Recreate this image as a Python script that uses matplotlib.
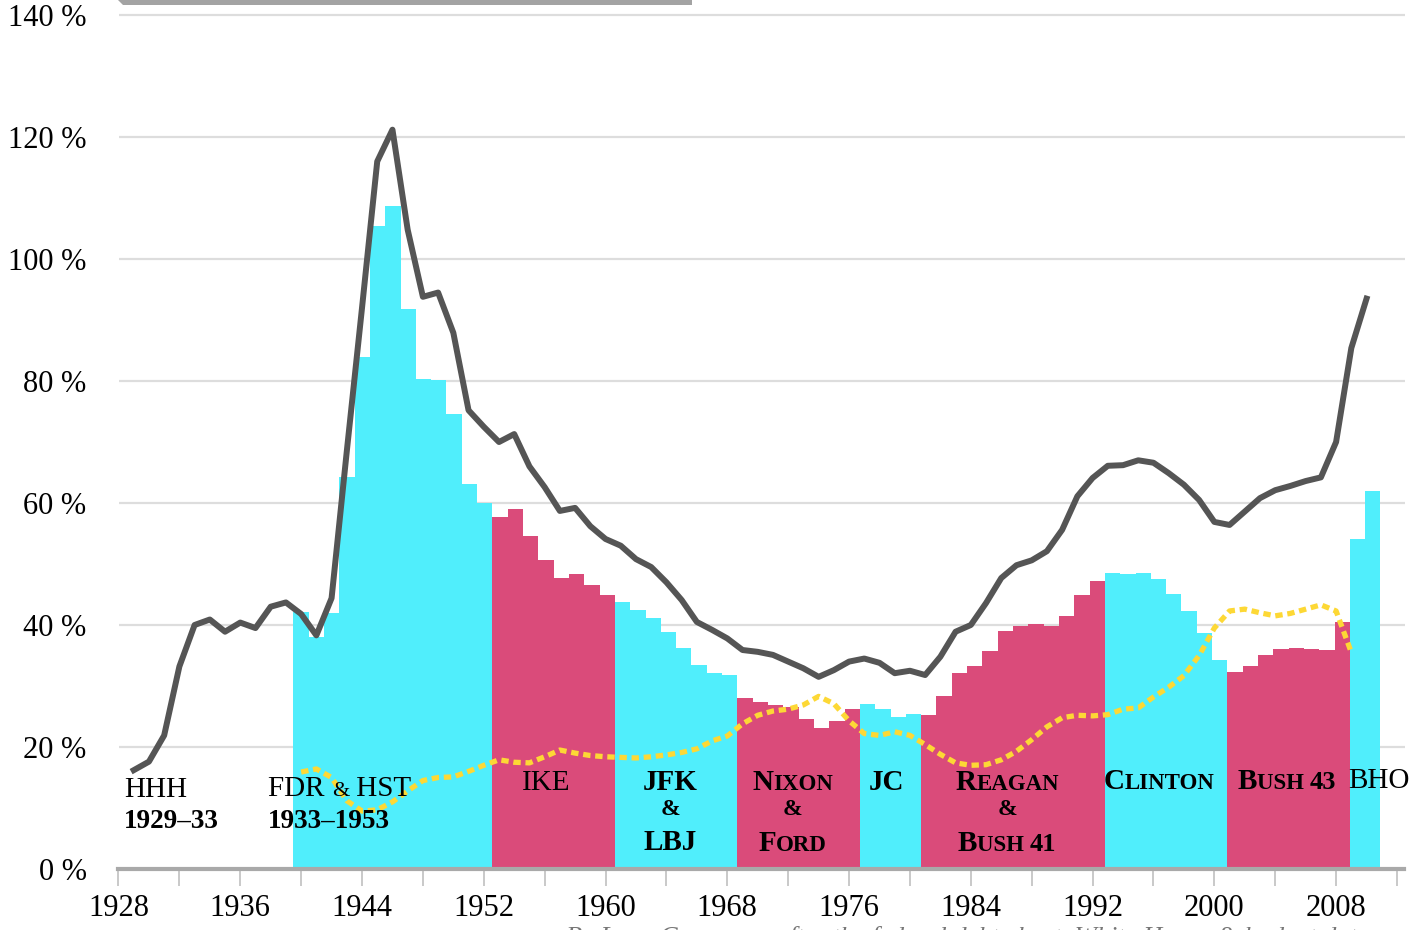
import numpy as np
import matplotlib
matplotlib.use("Agg")
import matplotlib.pyplot as plt
from matplotlib.offsetbox import TextArea, HPacker, AnnotationBbox
from matplotlib.patches import Polygon

SERIF = ["Liberation Serif", "DejaVu Serif"]
plt.rcParams["font.family"] = SERIF

# ---- data ----
line_years = np.arange(1929, 2011)
gross_debt = [16.2, 17.6, 21.9, 33.2, 40.0, 40.9, 38.9, 40.4, 39.5, 43.0,
              43.7, 41.8, 38.3, 44.4, 68.5, 92.0, 116.0, 121.2, 104.8, 93.8,
              94.5, 87.9, 75.2, 72.5, 70.0, 71.3, 66.0, 62.6, 58.7, 59.2,
              56.2, 54.1, 53.0, 50.8, 49.5, 47.0, 44.1, 40.5, 39.2, 37.8,
              35.9, 35.6, 35.1, 34.0, 32.9, 31.5, 32.6, 34.0, 34.5, 33.8,
              32.1, 32.5, 31.8, 34.8, 38.9, 40.0, 43.6, 47.7, 49.8, 50.6,
              52.1, 55.6, 61.1, 64.1, 66.1, 66.2, 67.0, 66.6, 64.9, 63.0,
              60.5, 56.9, 56.4, 58.6, 60.8, 62.1, 62.8, 63.6, 64.2, 70.0,
              85.4, 93.5]

bar_years = np.arange(1940, 2011)
public_debt = [42.2, 38.1, 41.9, 64.3, 84.0, 105.4, 108.7, 91.8, 80.4, 80.2,
               74.6, 63.1, 60.0, 57.7, 59.0, 54.6, 50.7, 47.7, 48.4, 46.6,
               44.9, 43.8, 42.5, 41.1, 38.9, 36.2, 33.4, 32.1, 31.8, 28.1,
               27.3, 26.9, 26.6, 24.6, 23.1, 24.2, 26.2, 27.0, 26.3, 25.0,
               25.4, 25.2, 28.4, 32.1, 33.3, 35.8, 39.0, 39.8, 40.2, 39.9,
               41.5, 44.9, 47.2, 48.6, 48.4, 48.5, 47.5, 45.1, 42.3, 38.7,
               34.3, 32.3, 33.3, 35.1, 36.1, 36.3, 36.1, 35.9, 40.5, 54.1,
               62.0]

trend_years = np.arange(1940, 2010)
trend = [15.9, 16.4, 15.0, 11.2, 9.5, 9.7, 11.0, 12.8, 14.5, 15.0,
         15.1, 16.0, 17.0, 17.9, 17.5, 17.4, 18.4, 19.5, 19.0, 18.6,
         18.4, 18.3, 18.2, 18.4, 18.7, 19.1, 19.7, 21.0, 21.8, 23.8,
         25.2, 25.9, 26.2, 26.9, 28.3, 27.1, 24.3, 22.2, 21.9, 22.5,
         21.9, 20.4, 18.8, 17.4, 17.0, 17.1, 17.9, 19.3, 21.2, 23.3,
         24.8, 25.2, 25.1, 25.3, 26.2, 26.4, 28.2, 29.8, 31.7, 35.0,
         39.5, 42.3, 42.6, 42.0, 41.5, 41.9, 42.6, 43.3, 42.3, 35.5]

# first fiscal year of each administration block and its party
term_starts = [1940, 1953, 1961, 1969, 1977, 1981, 1993, 2001, 2009]
term_party = ["D", "R", "D", "R", "D", "R", "D", "R", "D"]

party_color = {"D": "#50EEFC", "R": "#DA4B7A"}

bar_colors = []
for y in bar_years:
    idx = max(i for i, s in enumerate(term_starts) if s <= y)
    bar_colors.append(party_color[term_party[idx]])

# bars in the original run on a slightly wider step than the year axis
bar_step = 1.006
bar_left = 1939.49 + (bar_years - 1940) * bar_step

# ---- figure ----
fig = plt.figure(figsize=(14.1, 9.3), dpi=100)
ax = fig.add_axes([118.5 / 1410, 61 / 930, 1286 / 1410, 141 * 6.1 / 930])
ax.set_xlim(1928, 1928 + 1286 / 15.22)
ax.set_ylim(0, 141)

ax.bar(bar_left, public_debt, width=bar_step, align="edge",
       color=bar_colors, edgecolor="none", zorder=1)
ax.plot(trend_years, trend, color="#FDD835", lw=3.8,
        linestyle=(0, (1.4, 0.9)), zorder=3)
ax.plot(line_years, gross_debt, color="#555555", lw=4.3,
        solid_joinstyle="round", zorder=4)

# grid / axes
ax.set_axisbelow(True)
for v in range(20, 141, 20):
    ax.axhline(v, color="#dddddd", lw=1.6, zorder=0)
for s in ["top", "right", "left"]:
    ax.spines[s].set_visible(False)
ax.spines["bottom"].set_color("#a9a9a9")
ax.spines["bottom"].set_linewidth(3)

xt = list(range(1928, 2013, 4))
ax.set_xticks(xt)
ax.set_xticklabels([str(t) if (t - 1928) % 8 == 0 else "" for t in xt])
ax.tick_params(axis="x", length=12, width=1.1, color="#bbbbbb",
               pad=6, labelsize=22)
ax.set_yticks(range(0, 141, 20))
ax.set_yticklabels([f"{v} %" for v in range(0, 141, 20)])
ax.tick_params(axis="y", length=0, pad=23, labelsize=22)


def runs_label(x, y, runs, weight="bold", align=(0.5, 0.0)):
    areas = [TextArea(s, textprops=dict(fontsize=sz, fontweight=weight,
                                        family=SERIF, color="black"))
             for s, sz in runs]
    box = HPacker(children=areas, align="baseline", pad=0, sep=0)
    ab = AnnotationBbox(box, (x, y), xycoords="data", frameon=False,
                        box_alignment=align, pad=0, zorder=6)
    ax.add_artist(ab)


BIG, SMALL = 21, 16.5

# HHH / FDR & HST
ax.text(1928.36, 11.8, "HHH", fontsize=21, va="baseline", zorder=6)
ax.text(1928.36, 6.7, "1929\u201333", fontsize=19.5, fontweight="bold",
        va="baseline", zorder=6)
runs_label(1937.82, 11.0, [("FDR ", 21), ("&", 16), (" HST", 21)],
           weight="normal", align=(0.0, 0.0))
ax.text(1937.82, 6.7, "1933\u20131953", fontsize=19.5, fontweight="bold",
        va="baseline", zorder=6)

ax.text(1956.1, 12.95, "IKE", fontsize=21, ha="center", va="baseline", zorder=6)
ax.text(1964.24, 12.95, "JFK", fontsize=21, fontweight="bold", ha="center",
        va="baseline", zorder=6)
ax.text(1964.24, 8.85, "&", fontsize=17, fontweight="bold", ha="center",
        va="baseline", zorder=6)
ax.text(1964.24, 3.1, "LBJ", fontsize=21, fontweight="bold", ha="center",
        va="baseline", zorder=6)
ax.text(1978.43, 12.95, "JC", fontsize=21, fontweight="bold", ha="center",
        va="baseline", zorder=6)
ax.text(2008.78, 13.3, "BHO", fontsize=21, va="baseline", zorder=6)

runs_label(1972.3, 11.9, [("N", BIG), ("IXON", SMALL)])
ax.text(1972.3, 8.85, "&", fontsize=17, fontweight="bold", ha="center",
        va="baseline", zorder=6)
runs_label(1972.3, 2.0, [("F", BIG), ("ORD", SMALL)])

runs_label(1986.38, 11.9, [("R", BIG), ("EAGAN", SMALL)])
ax.text(1986.38, 8.85, "&", fontsize=17, fontweight="bold", ha="center",
        va="baseline", zorder=6)
runs_label(1986.38, 2.0, [("B", BIG), ("USH ", SMALL), ("41", 19)])

runs_label(1996.4, 12.2, [("C", BIG), ("LINTON", SMALL)])
runs_label(2004.78, 12.2, [("B", BIG), ("USH ", SMALL), ("43", 19)])

# cut-off header bar and credit line
fig.add_artist(Polygon([[118 / 1410, 1.0], [692 / 1410, 1.0],
                        [692 / 1410, 925 / 930], [123 / 1410, 925 / 930]],
                       closed=True, transform=fig.transFigure,
                       color="#a3a3a3", lw=0))
fig.text(566 / 1410, -14 / 930,
         "By Lane Cooper \u2014 after the federal debt chart, "
         "White House & budget data",
         fontsize=19, style="italic", color="#777777")

fig.savefig("out.png", dpi=100)
